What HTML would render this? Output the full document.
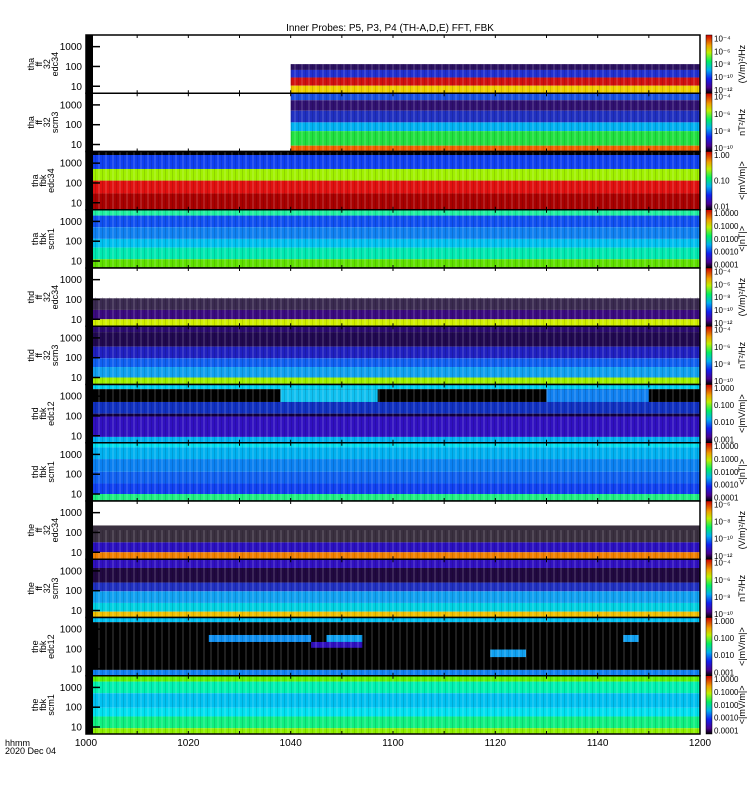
<!DOCTYPE html>
<html><head><meta charset="utf-8"><style>
body{margin:0;background:#fff;width:750px;height:800px;overflow:hidden}
svg{display:block;font-family:"Liberation Sans",sans-serif}
</style></head><body>
<svg id="chart" width="750" height="800" viewBox="0 0 750 800"></svg>
<script>
const panelNames=[["tha","ff","32","edc34"],["tha","ff","32","scm3"],["tha","fbk","edc34"],["tha","fbk","scm1"],["thd","ff","32","edc34"],["thd","ff","32","scm3"],["thd","fbk","edc12"],["thd","fbk","scm1"],["the","ff","32","edc34"],["the","ff","32","scm3"],["the","fbk","edc12"],["the","fbk","scm1"]];
const dataStart=[1040,1040,1000,1000,1000,1000,1000,1000,1000,1000,1000,1000];
const bands=[
[[0,0.5,"#ffffff"],[0.5,0.6,"#2a1060"],[0.6,0.73,"#2030d0"],[0.73,0.87,"#d01010"],[0.87,1,"#f0d000"]],
[[0,0.12,"#1850e0"],[0.12,0.3,"#301070"],[0.3,0.5,"#2030c0"],[0.5,0.65,"#00b0f0"],[0.65,0.9,"#20e040"],[0.9,1,"#f06000"]],
[[0,0.06,"#000000"],[0.06,0.3,"#1040f0"],[0.3,0.5,"#a0f000"],[0.5,0.72,"#e01010"],[0.72,1,"#a80000"]],
[[0,0.1,"#20f0a0"],[0.1,0.3,"#1050f0"],[0.3,0.5,"#1080f0"],[0.5,0.65,"#00c0f0"],[0.65,0.85,"#00e8b0"],[0.85,1,"#60e000"]],
[[0,0.52,"#ffffff"],[0.52,0.72,"#3a2a50"],[0.72,0.88,"#3a0a80"],[0.88,1,"#d0f000"]],
[[0,0.1,"#2a0a70"],[0.1,0.35,"#200850"],[0.35,0.55,"#2020c0"],[0.55,0.7,"#1060f0"],[0.7,0.88,"#10a0f0"],[0.88,1,"#a0f000"]],
[[0,0.08,"#00d0f0"],[0.08,0.3,"#000000"],[0.3,0.5,"#1030c0"],[0.5,0.55,"#100040"],[0.55,0.9,"#3010c0"],[0.9,1,"#00b0f0"]],
[[0,0.08,"#00e0f0"],[0.08,0.28,"#00b0f0"],[0.28,0.5,"#0a80f0"],[0.5,0.7,"#1060f0"],[0.7,0.88,"#1040f0"],[0.88,1,"#20f080"]],
[[0,0.42,"#ffffff"],[0.42,0.71,"#3a3040"],[0.71,0.88,"#2a10c0"],[0.88,1,"#f08000"]],
[[0,0.15,"#3010c0"],[0.15,0.4,"#200840"],[0.4,0.55,"#2030c0"],[0.55,0.75,"#10a0f0"],[0.75,0.9,"#00d0e0"],[0.9,1,"#f0c000"]],
[[0,0.08,"#00c0f0"],[0.08,0.9,"#000000"],[0.9,1,"#1080f0"]],
[[0,0.1,"#60f000"],[0.1,0.3,"#00f0b0"],[0.3,0.55,"#00c0f0"],[0.55,0.7,"#00e0f0"],[0.7,0.9,"#10f080"],[0.9,1,"#90f000"]]];
// patches: [panel, tStart, tEnd, f0, f1, color]
const patches=[[6,1038,1057,0.08,0.3,"#10c0f0"],[6,1130,1150,0.08,0.3,"#1080f0"],[10,1024,1044,0.3,0.42,"#1090f0"],[10,1047,1054,0.3,0.42,"#10a0f0"],[10,1044,1054,0.42,0.52,"#3010c0"],[10,1119,1126,0.55,0.68,"#10a0f0"],[10,1145,1148,0.3,0.42,"#10a0f0"]];
const cbLabels=[["10⁻⁴","10⁻⁶","10⁻⁸","10⁻¹⁰","10⁻¹²"],["10⁻⁴","10⁻⁶","10⁻⁸","10⁻¹⁰"],["1.00","0.10","0.01"],["1.0000","0.1000","0.0100","0.0010","0.0001"],["10⁻⁴","10⁻⁶","10⁻⁸","10⁻¹⁰","10⁻¹²"],["10⁻⁴","10⁻⁶","10⁻⁸","10⁻¹⁰"],["1.000","0.100","0.010","0.001"],["1.0000","0.1000","0.0100","0.0010","0.0001"],["10⁻⁶","10⁻⁸","10⁻¹⁰","10⁻¹²"],["10⁻⁴","10⁻⁶","10⁻⁸","10⁻¹⁰"],["1.000","0.100","0.010","0.001"],["1.0000","0.1000","0.0100","0.0010","0.0001"]];
const cbUnits=["(V/m)²/Hz","nT²/Hz","<|mV/m|>","<|nT|>","(V/m)²/Hz","nT²/Hz","<|mV/m|>","<|nT|>","(V/m)²/Hz","nT²/Hz","<|mV/m|>","<|mV/m|>"];
const yTicks=[1000,100,10];
const xTickLabels=["1000","1020","1040","1100","1120","1140","1200"];
const xTickMinutes=[0,20,40,60,80,100,120];

const NS="http://www.w3.org/2000/svg";
const svg=document.getElementById("chart");
const L=86,R=700,T=35,B=734,N=12,PH=(B-T)/N;
function tToMin(t){return Math.floor(t/100)*60+t%100-600;}
function xs(m){return L+(R-L)*m/120;}
function yf(p,f){return T+p*PH+f*PH;}
function yLog(p,v){return yf(p,0.88-(Math.log10(v)-1)*0.34);}
function el(tag,attrs,parent){const e=document.createElementNS(NS,tag);for(const k in attrs)e.setAttribute(k,attrs[k]);(parent||svg).appendChild(e);return e;}
const defs=el("defs",{});
const pat=el("pattern",{id:"stripes",width:"7",height:"10",patternUnits:"userSpaceOnUse"},defs);
el("rect",{x:0,y:0,width:2,height:10,fill:"#fff","fill-opacity":"0.12"},pat);
el("rect",{x:4,y:0,width:1,height:10,fill:"#000","fill-opacity":"0.12"},pat);
const cg=el("linearGradient",{id:"rainbow",x1:"0",y1:"1",x2:"0",y2:"0"},defs);
[["0","#000000"],["0.1","#4a0090"],["0.25","#1020f0"],["0.4","#00b0f0"],["0.55","#00f060"],["0.7","#c0f000"],["0.82","#f0a000"],["1","#d00000"]].forEach(s=>el("stop",{offset:s[0],"stop-color":s[1]},cg));

const title=el("text",{x:390,y:31,"font-size":"10","text-anchor":"middle"});
title.textContent="Inner Probes: P5, P3, P4 (TH-A,D,E) FFT, FBK";



for(let p=0;p<N;p++){
  const g=el("g",{});
  
  
  const x0=xs(tToMin(dataStart[p]));
  bands[p].forEach(b=>{
    const r=el("rect",{x:x0,y:yf(p,b[0]),width:R-x0,height:(b[1]-b[0])*PH,fill:b[2]},g);
    
    
  });
  patches.filter(q=>q[0]===p).forEach(q=>{
    const a=xs(tToMin(q[1])),c=xs(tToMin(q[2]));
    const r=el("rect",{x:a,y:yf(p,q[3]),width:c-a,height:(q[4]-q[3])*PH,fill:q[5]},g);
    
    
  });
  const hasWhite=bands[p][0][2]==="#ffffff";
  el("rect",{x:x0,y:yf(p,hasWhite?0.5:0),width:R-x0,height:hasWhite?PH*0.5:PH,fill:"url(#stripes)"},g);
  el("rect",{x:L,y:yf(p,0),width:7,height:PH,fill:"#000"},g);
  el("rect",{x:L,y:yf(p,0),width:R-L,height:PH,fill:"none",stroke:"#000","stroke-width":"1.5"},g);
  yTicks.forEach(v=>{
    const y=yLog(p,v);
    el("line",{x1:L,x2:L+14,y1:y,y2:y,stroke:"#000","stroke-width":"1.5"},g);
    const t=el("text",{x:L-4,y:y+3.5,"font-size":"10","text-anchor":"end"},g);
    t.textContent=String(v);
    
    
  });
  for(let m=10;m<120;m+=10){
    el("line",{x1:xs(m),x2:xs(m),y1:yf(p,1)-3,y2:yf(p,1),stroke:"#000"},g);
    el("line",{x1:xs(m),x2:xs(m),y1:yf(p,0),y2:yf(p,0)+3,stroke:"#000"},g);
  }
  const names=panelNames[p];
  const cy=yf(p,0.5);
  const lab=el("text",{transform:`translate(${50-names.length*4},${cy}) rotate(-90)`,"font-size":"9","text-anchor":"middle"},g);
  names.forEach((n,i)=>{const ts=el("tspan",{x:0,dy:i?8:0},lab);ts.textContent=n;});
  
  
  const cb=el("rect",{x:706,y:yf(p,0),width:6,height:PH,fill:"url(#rainbow)",stroke:"#000","stroke-width":"0.5"},g);
  
  
  const labs=cbLabels[p];
  labs.forEach((s,i)=>{
    const f=0.06+i*(0.88/(labs.length-1));
    const t=el("text",{x:714,y:yf(p,f)+3,"font-size":"8"},g);
    t.textContent=s;
    
    
  });
  const u=el("text",{transform:`translate(745,${cy}) rotate(-90)`,"font-size":"9","text-anchor":"middle"},g);
  u.textContent=cbUnits[p];
  
  
}
xTickLabels.forEach((s,i)=>{
  const t=el("text",{x:xs(xTickMinutes[i]),y:746,"font-size":"10","text-anchor":"middle"});
  t.textContent=s;
  
  
});
const h1=el("text",{x:5,y:746,"font-size":"9"});h1.textContent="hhmm";


const h2=el("text",{x:5,y:754,"font-size":"9"});h2.textContent="2020 Dec 04";


</script>
</body></html>
